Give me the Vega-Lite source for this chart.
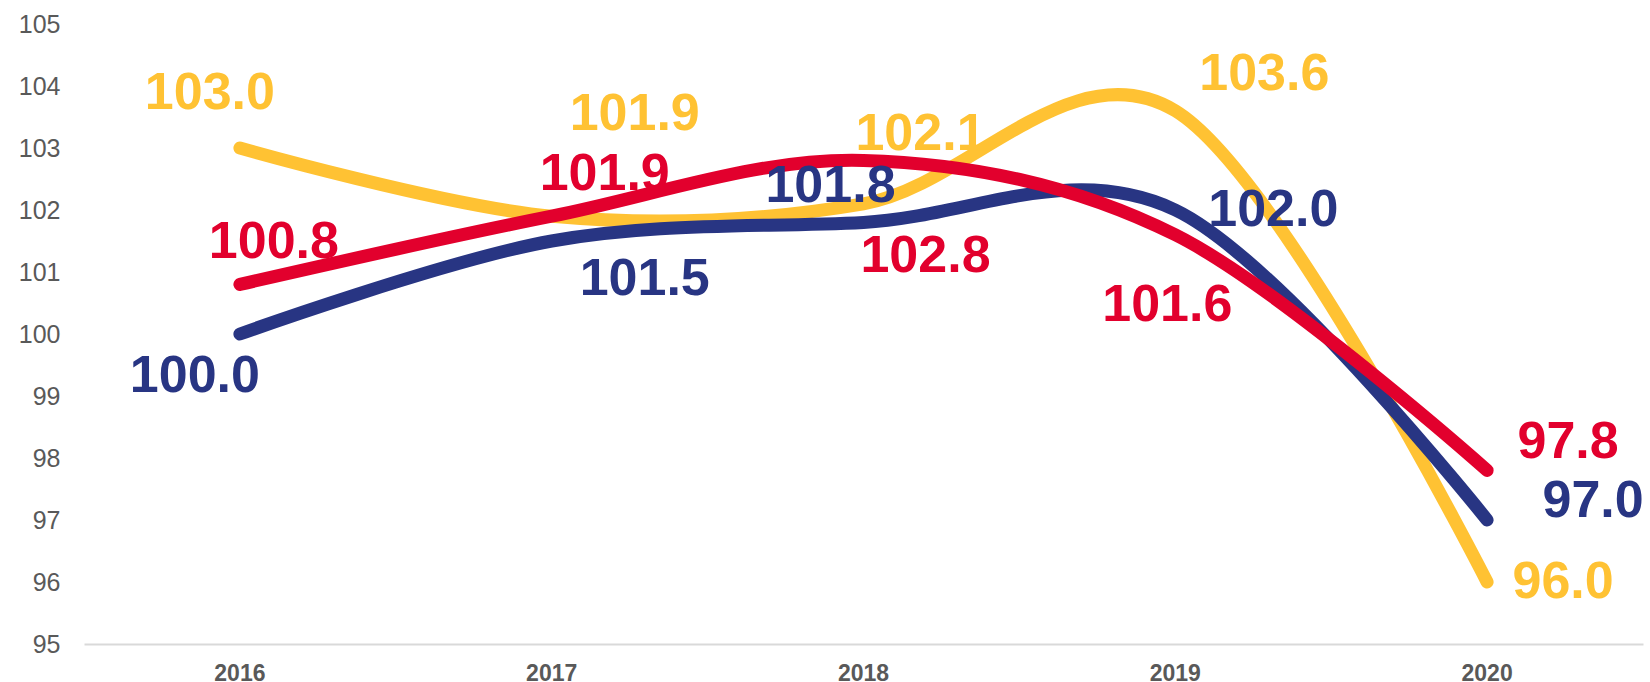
{
  "$schema": "https://vega.github.io/schema/vega-lite/v6.json",
  "width": 1559,
  "height": 620,
  "autosize": {"type": "none"},
  "padding": {"left": 84, "top": 24, "right": 7, "bottom": 38},
  "background": "white",
  "config": {"view": {"stroke": null}},
  "data": {"values": [
    {"s": "Y", "year": "2016", "value": 103.0},
    {"s": "Y", "year": "2017", "value": 101.9},
    {"s": "Y", "year": "2018", "value": 102.1},
    {"s": "Y", "year": "2019", "value": 103.6},
    {"s": "Y", "year": "2020", "value": 96.0},
    {"s": "N", "year": "2016", "value": 100.0},
    {"s": "N", "year": "2017", "value": 101.5},
    {"s": "N", "year": "2018", "value": 101.8},
    {"s": "N", "year": "2019", "value": 102.0},
    {"s": "N", "year": "2020", "value": 97.0},
    {"s": "R", "year": "2016", "value": 100.8},
    {"s": "R", "year": "2017", "value": 101.9},
    {"s": "R", "year": "2018", "value": 102.8},
    {"s": "R", "year": "2019", "value": 101.6},
    {"s": "R", "year": "2020", "value": 97.8}
  ]},
  "encoding": {
    "x": {"field": "year", "type": "ordinal", "scale": {"type": "band", "paddingInner": 0, "paddingOuter": 0},
      "axis": {"title": null, "ticks": false, "domainColor": "#D9D9D9", "domainWidth": 2, "labelFont": "Liberation Sans", "labelFontWeight": "bold", "labelFontSize": 23, "labelColor": "#595959", "labelPadding": 18, "labelAngle": 0, "grid": false}},
    "y": {"field": "value", "type": "quantitative", "scale": {"domain": [95, 105], "nice": false, "zero": false},
      "axis": {"title": null, "ticks": false, "domain": false, "grid": false, "values": [95,96,97,98,99,100,101,102,103,104,105], "labelFont": "Liberation Sans", "labelFontSize": 25, "labelColor": "#595959", "labelPadding": 24}},
    "color": {"field": "s", "type": "nominal", "scale": {"domain": ["Y", "N", "R"], "range": ["#FFC233", "#283583", "#E2002D"]}, "legend": null}
  },
  "layer": [
    {"mark": {"type": "line", "interpolate": "cardinal", "strokeWidth": 13, "strokeCap": "round", "strokeJoin": "round"},
     "encoding": {"order": {"field": "year"}, "detail": {"field": "s"}}},
    {"transform": [{"filter": "datum.s==='Y' && datum.year==='2016'"}], "mark": {"type": "text", "font": "Liberation Sans", "fontWeight": "bold", "fontSize": 52, "baseline": "middle", "dx": -30, "dy": -55}, "encoding": {"text": {"field": "value", "format": ".1f"}}},
    {"transform": [{"filter": "datum.s==='Y' && datum.year==='2017'"}], "mark": {"type": "text", "font": "Liberation Sans", "fontWeight": "bold", "fontSize": 52, "baseline": "middle", "dx": 83, "dy": -102}, "encoding": {"text": {"field": "value", "format": ".1f"}}},
    {"transform": [{"filter": "datum.s==='Y' && datum.year==='2018'"}], "mark": {"type": "text", "font": "Liberation Sans", "fontWeight": "bold", "fontSize": 52, "baseline": "middle", "dx": 57, "dy": -70}, "encoding": {"text": {"field": "value", "format": ".1f"}}},
    {"transform": [{"filter": "datum.s==='Y' && datum.year==='2019'"}], "mark": {"type": "text", "font": "Liberation Sans", "fontWeight": "bold", "fontSize": 52, "baseline": "middle", "dx": 89, "dy": -37}, "encoding": {"text": {"field": "value", "format": ".1f"}}},
    {"transform": [{"filter": "datum.s==='Y' && datum.year==='2020'"}], "mark": {"type": "text", "font": "Liberation Sans", "fontWeight": "bold", "fontSize": 52, "baseline": "middle", "dx": 76, "dy": 0}, "encoding": {"text": {"field": "value", "format": ".1f"}}},
    {"transform": [{"filter": "datum.s==='N' && datum.year==='2016'"}], "mark": {"type": "text", "font": "Liberation Sans", "fontWeight": "bold", "fontSize": 52, "baseline": "middle", "dx": -45, "dy": 42}, "encoding": {"text": {"field": "value", "format": ".1f"}}},
    {"transform": [{"filter": "datum.s==='N' && datum.year==='2017'"}], "mark": {"type": "text", "font": "Liberation Sans", "fontWeight": "bold", "fontSize": 52, "baseline": "middle", "dx": 93, "dy": 38}, "encoding": {"text": {"field": "value", "format": ".1f"}}},
    {"transform": [{"filter": "datum.s==='N' && datum.year==='2018'"}], "mark": {"type": "text", "font": "Liberation Sans", "fontWeight": "bold", "fontSize": 52, "baseline": "middle", "dx": -33, "dy": -36}, "encoding": {"text": {"field": "value", "format": ".1f"}}},
    {"transform": [{"filter": "datum.s==='N' && datum.year==='2019'"}], "mark": {"type": "text", "font": "Liberation Sans", "fontWeight": "bold", "fontSize": 52, "baseline": "middle", "dx": 98, "dy": 0}, "encoding": {"text": {"field": "value", "format": ".1f"}}},
    {"transform": [{"filter": "datum.s==='N' && datum.year==='2020'"}], "mark": {"type": "text", "font": "Liberation Sans", "fontWeight": "bold", "fontSize": 52, "baseline": "middle", "dx": 106, "dy": -19}, "encoding": {"text": {"field": "value", "format": ".1f"}}},
    {"transform": [{"filter": "datum.s==='R' && datum.year==='2016'"}], "mark": {"type": "text", "font": "Liberation Sans", "fontWeight": "bold", "fontSize": 52, "baseline": "middle", "dx": 34, "dy": -42}, "encoding": {"text": {"field": "value", "format": ".1f"}}},
    {"transform": [{"filter": "datum.s==='R' && datum.year==='2017'"}], "mark": {"type": "text", "font": "Liberation Sans", "fontWeight": "bold", "fontSize": 52, "baseline": "middle", "dx": 53, "dy": -42}, "encoding": {"text": {"field": "value", "format": ".1f"}}},
    {"transform": [{"filter": "datum.s==='R' && datum.year==='2018'"}], "mark": {"type": "text", "font": "Liberation Sans", "fontWeight": "bold", "fontSize": 52, "baseline": "middle", "dx": 62, "dy": 96}, "encoding": {"text": {"field": "value", "format": ".1f"}}},
    {"transform": [{"filter": "datum.s==='R' && datum.year==='2019'"}], "mark": {"type": "text", "font": "Liberation Sans", "fontWeight": "bold", "fontSize": 52, "baseline": "middle", "dx": -8, "dy": 70}, "encoding": {"text": {"field": "value", "format": ".1f"}}},
    {"transform": [{"filter": "datum.s==='R' && datum.year==='2020'"}], "mark": {"type": "text", "font": "Liberation Sans", "fontWeight": "bold", "fontSize": 52, "baseline": "middle", "dx": 81, "dy": -28}, "encoding": {"text": {"field": "value", "format": ".1f"}}}
  ]
}
